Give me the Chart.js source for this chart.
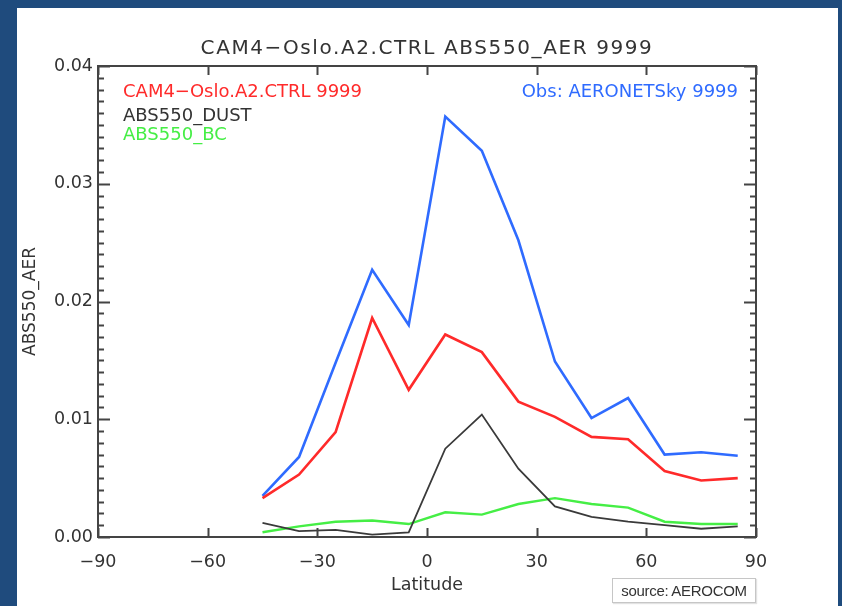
<!DOCTYPE html>
<html>
<head>
<meta charset="utf-8">
<script src="https://cdn.jsdelivr.net/npm/chart.js@4.4.1/dist/chart.umd.min.js"></script>
<style>
  html, body { margin: 0; padding: 0; width: 842px; height: 606px; overflow: hidden; background: #1f4b7d; }
  #panel { position: absolute; left: 17px; top: 8px; width: 821px; height: 598px; background: #ffffff; }
  #wrap { position: absolute; left: 0; top: 0; width: 842px; height: 606px; }
  #source {
    position: absolute; left: 612px; top: 578px; width: 144px; height: 25px;
    box-sizing: border-box; border: 1px solid #c6c6c6; background: #fff;
    box-shadow: 1px 1px 1px #e2e2e2;
    font: 15px "Liberation Sans", Arial, sans-serif; letter-spacing: -0.3px;
    color: #333; text-align: center; line-height: 23px;
  }
</style>
</head>
<body>
<div id="panel"></div>
<div id="wrap"><canvas id="chart" width="842" height="606"></canvas></div>
<div id="source">source: AEROCOM</div>
<script>
// Zonal means of absorption aerosol optical depth at 550 nm, 10-degree latitude bands
const latitudes = [-45, -35, -25, -15, -5, 5, 15, 25, 35, 45, 55, 65, 75, 85];
const obsAeronetSky = [0.0035, 0.0068, 0.0148, 0.0227, 0.0180, 0.0357, 0.0328, 0.0252, 0.0149, 0.0101, 0.0118, 0.0070, 0.0072, 0.0069];
const modelTotal   = [0.0033, 0.0053, 0.0089, 0.0186, 0.0125, 0.0172, 0.0157, 0.0115, 0.0102, 0.0085, 0.0083, 0.0056, 0.0048, 0.0050];
const modelDust    = [0.0012, 0.0005, 0.0006, 0.0002, 0.0004, 0.0075, 0.0104, 0.0058, 0.0026, 0.0017, 0.0013, 0.0010, 0.0007, 0.0009];
const modelBC      = [0.0004, 0.0009, 0.0013, 0.0014, 0.0011, 0.0021, 0.0019, 0.0028, 0.0033, 0.0028, 0.0025, 0.0013, 0.0011, 0.0011];

const xTicks = [-90, -60, -30, 0, 30, 60, 90];
const yTicks = [0, 0.01, 0.02, 0.03, 0.04];

const titleText = 'CAM4\u2212Oslo.A2.CTRL ABS550_AER 9999';
const legendLeft = [
  { text: 'CAM4\u2212Oslo.A2.CTRL 9999', color: '#ff2a2a' },
  { text: 'ABS550_DUST', color: '#333333' },
  { text: 'ABS550_BC', color: '#45ee45' }
];
const legendRight = { text: 'Obs: AERONETSky 9999', color: '#2f6bff' };

const FONT = '"DejaVu Sans", sans-serif';
const AXIS = '#444444';

function pts(values) {
  return latitudes.map((lat, i) => ({ x: lat, y: values[i] }));
}

// Boxed frame with inward ticks, title and text legend
const framePlugin = {
  id: 'frame',
  afterDatasetsDraw(chart) {
    const { ctx, chartArea: a, scales: { x, y } } = chart;
    ctx.save();
    ctx.strokeStyle = AXIS;
    ctx.lineWidth = 2;
    ctx.lineCap = 'butt';
    ctx.strokeRect(a.left, a.top, a.right - a.left, a.bottom - a.top);

    ctx.beginPath();
    xTicks.forEach(v => {
      const px = Math.round(x.getPixelForValue(v)) + 0.5;
      ctx.moveTo(px, a.bottom); ctx.lineTo(px, a.bottom - 9);
      ctx.moveTo(px, a.top); ctx.lineTo(px, a.top + 9);
    });
    for (let k = 0; k <= 40; k++) {
      const v = k / 1000;
      const py = Math.round(y.getPixelForValue(v)) + 0.5;
      const len = (k % 10 === 0) ? 12 : 6;
      ctx.moveTo(a.left, py); ctx.lineTo(a.left + len, py);
      ctx.moveTo(a.right, py); ctx.lineTo(a.right - len, py);
    }
    ctx.stroke();
    ctx.restore();
  },
  afterDraw(chart) {
    const { ctx, chartArea: a } = chart;
    ctx.save();
    ctx.textBaseline = 'alphabetic';

    ctx.font = '20px ' + FONT;
    ctx.letterSpacing = '1.6px';
    ctx.fillStyle = '#333333';
    ctx.textAlign = 'center';
    ctx.fillText(titleText, (a.left + a.right) / 2, 54);

    ctx.letterSpacing = '0px';
    ctx.font = '18px ' + FONT;
    ctx.textAlign = 'left';
    const baselines = [97, 121, 140];
    legendLeft.forEach((item, i) => {
      ctx.fillStyle = item.color;
      ctx.fillText(item.text, 123, baselines[i]);
    });
    ctx.textAlign = 'right';
    ctx.fillStyle = legendRight.color;
    ctx.fillText(legendRight.text, 738, 97);
    ctx.restore();
  }
};

new Chart(document.getElementById('chart'), {
  type: 'line',
  data: {
    datasets: [
      { label: 'CAM4-Oslo.A2.CTRL 9999', data: pts(modelTotal), borderColor: '#ff2a2a', borderWidth: 2.6 },
      { label: 'ABS550_DUST', data: pts(modelDust), borderColor: '#3a3a3a', borderWidth: 1.8 },
      { label: 'ABS550_BC', data: pts(modelBC), borderColor: '#45ee45', borderWidth: 2.4 },
      { label: 'Obs: AERONETSky 9999', data: pts(obsAeronetSky), borderColor: '#2f6bff', borderWidth: 2.6 }
    ]
  },
  options: {
    responsive: false,
    devicePixelRatio: 1,
    animation: false,
    layout: { padding: { left: 0, right: 86, top: 66, bottom: 0 } },
    elements: { point: { radius: 0 }, line: { tension: 0, fill: false } },
    plugins: { legend: { display: false }, title: { display: false }, tooltip: { enabled: false } },
    scales: {
      x: {
        type: 'linear', min: -90, max: 90,
        afterBuildTicks: s => { s.ticks = xTicks.map(v => ({ value: v })); },
        afterFit: s => { s.height = 69; },
        grid: { display: false, drawTicks: false },
        border: { display: false },
        ticks: {
          padding: 15, color: '#333333', font: { family: FONT, size: 17.5 },
          maxRotation: 0, autoSkip: false,
          callback: v => (v < 0 ? '\u2212' + Math.abs(v) : String(v))
        },
        title: { display: true, text: 'Latitude', color: '#333333',
                 font: { family: FONT, size: 17.5 }, padding: { top: 0, bottom: 10 } }
      },
      y: {
        type: 'linear', min: 0, max: 0.04,
        afterBuildTicks: s => { s.ticks = yTicks.map(v => ({ value: v })); },
        afterFit: s => { s.width = 98; },
        grid: { display: false, drawTicks: false },
        border: { display: false },
        ticks: {
          padding: 5, color: '#333333', font: { family: FONT, size: 17.5 },
          callback: v => v.toFixed(2)
        },
        title: { display: true, text: 'ABS550_AER', color: '#333333',
                 font: { family: FONT, size: 17 }, padding: { top: 20, bottom: 0 } }
      }
    }
  },
  plugins: [framePlugin]
});
</script>
</body>
</html>
